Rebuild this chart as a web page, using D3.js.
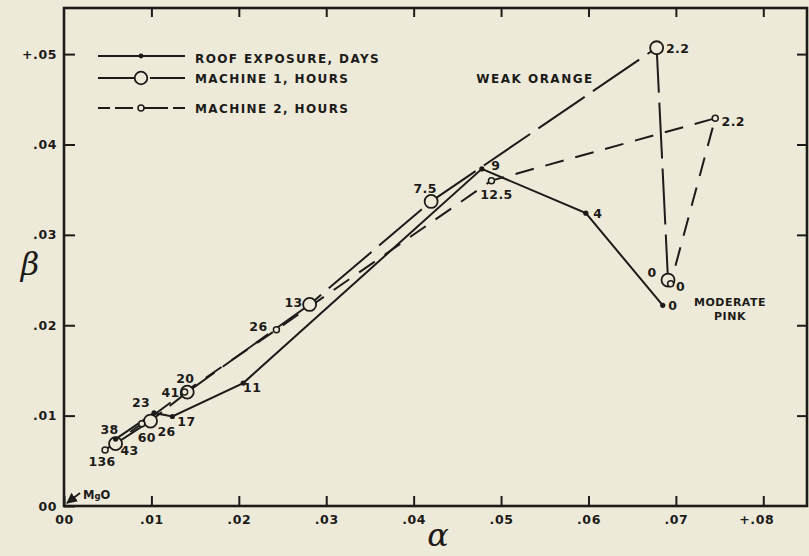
<!DOCTYPE html>
<html>
<head>
<meta charset="utf-8">
<script src="https://cdn.jsdelivr.net/npm/d3@7"></script>
<style>
  html, body { margin: 0; padding: 0; background: #eeeada; }
  svg { display: block; }
  text { font-family: "DejaVu Sans", sans-serif; font-weight: bold; fill: #1c1b18; }
</style>
</head>
<body>
<svg id="chart" width="809" height="556"></svg>
<script>
// Roof exposure, days
const roofLabels = ["38", "23", "17", "11", "9", "4", "0"];
const roofAlpha  = [0.0059, 0.0103, 0.0124, 0.0205, 0.0478, 0.0597, 0.0685];
const roofBeta   = [0.0074, 0.0103, 0.0099, 0.0136, 0.0373, 0.0324, 0.0222];

// Machine 1, hours
const m1Labels = ["43", "26", "20", "13", "7.5", "2.2", "0"];
const m1Alpha  = [0.0059, 0.0099, 0.0141, 0.0281, 0.0420, 0.0678, 0.0691];
const m1Beta   = [0.0069, 0.0094, 0.0126, 0.0223, 0.0337, 0.0507, 0.0250];

// Machine 2, hours
const m2Labels = ["136", "60", "41", "26", "12.5", "2.2", "0"];
const m2Alpha  = [0.0047, 0.0089, 0.0138, 0.0243, 0.0489, 0.0745, 0.0694];
const m2Beta   = [0.0062, 0.0091, 0.0126, 0.0195, 0.0360, 0.0429, 0.0246];

// Axes
const xTicks      = [0, 0.01, 0.02, 0.03, 0.04, 0.05, 0.06, 0.07, 0.08];
const xTickLabels = ["00", ".01", ".02", ".03", ".04", ".05", ".06", ".07", "+.08"];
const yTicks      = [0, 0.01, 0.02, 0.03, 0.04, 0.05];
const yTickLabels = ["00", ".01", ".02", ".03", ".04", "+.05"];

const seriesNames = ["ROOF EXPOSURE, DAYS", "MACHINE 1, HOURS", "MACHINE 2, HOURS"];
const colourNotes = ["WEAK ORANGE", "MODERATE", "PINK"];

const INK = "#1c1b18";
const PAPER = "#eeeada";

const svg = d3.select("#chart");

const x = d3.scaleLinear().domain([0, 0.085]).range([64, 807]);
const y = d3.scaleLinear().domain([0, 0.0551]).range([506, 8]);

// label offsets (px) for each point, same order as the series
const roofOff = [[-6, -10], [-13, -10], [14, 5], [9, 4], [14, -3], [12, 0], [10, 0]];
const m1Off   = [[14, 7], [16, 10], [-2, -14], [-16, -2], [-6, -13], [21, 1], [-16, -8]];
const m2Off   = [[-3, 12], [5, 14], [-14, 0], [-18, -3], [5, 14], [18, 3], [10, 3]];

const zip = (a, b, l) => a.map((v, i) => ({ a: v, b: b[i], label: l[i] }));
const roof = zip(roofAlpha, roofBeta, roofLabels);
const m1 = zip(m1Alpha, m1Beta, m1Labels);
const m2 = zip(m2Alpha, m2Beta, m2Labels);

const line = d3.line().x(d => x(d.a)).y(d => y(d.b));

// ---- axes ----
const fmt = (ticks, labels) => v => labels[ticks.indexOf(v)];

const gx = svg.append("g").attr("transform", `translate(0,${y(0)})`)
  .call(d3.axisBottom(x).tickValues(xTicks).tickFormat(fmt(xTicks, xTickLabels))
        .tickSize(-10).tickPadding(9));
gx.selectAll("text").attr("font-size", 12.5).attr("letter-spacing", 0.6)
  .attr("dx", d => d === 0.08 ? -7 : 0);

const gy = svg.append("g").attr("transform", `translate(${x(0)},0)`)
  .call(d3.axisLeft(y).tickValues(yTicks).tickFormat(fmt(yTicks, yTickLabels))
        .tickSize(-11).tickPadding(7));
gy.selectAll("text").attr("font-size", 12.5).attr("letter-spacing", 0.6);

svg.append("g").attr("transform", `translate(0,${y.range()[1]})`)
  .call(d3.axisTop(x).tickValues(xTicks.slice(1)).tickFormat("").tickSize(-9));
svg.append("g").attr("transform", `translate(${x.range()[1]},0)`)
  .call(d3.axisRight(y).tickValues(yTicks.slice(1)).tickFormat("").tickSize(-10));

svg.selectAll(".domain").remove();
svg.selectAll(".tick line").attr("stroke", INK).attr("stroke-width", 2);

// frame
svg.append("rect")
  .attr("x", x(0)).attr("y", y.range()[1])
  .attr("width", x.range()[1] - x(0)).attr("height", y(0) - y.range()[1])
  .attr("fill", "none").attr("stroke", INK).attr("stroke-width", 2.6);

// ---- series lines ----
const m1Dash = "56,10";
const m2Dash = "19,12";

svg.append("path").datum(m1).attr("d", line)
  .attr("fill", "none").attr("stroke", INK).attr("stroke-width", 2)
  .attr("stroke-dasharray", m1Dash);
svg.append("path").datum(m2).attr("d", line)
  .attr("fill", "none").attr("stroke", INK).attr("stroke-width", 2)
  .attr("stroke-dasharray", m2Dash);
svg.append("path").datum(roof).attr("d", line)
  .attr("fill", "none").attr("stroke", INK).attr("stroke-width", 2);

// ---- markers ----
svg.append("g").selectAll("circle").data(m1).join("circle")
  .attr("cx", d => x(d.a)).attr("cy", d => y(d.b)).attr("r", 6.5)
  .attr("fill", PAPER).attr("stroke", INK).attr("stroke-width", 1.8);
svg.append("g").selectAll("circle").data(m2).join("circle")
  .attr("cx", d => x(d.a)).attr("cy", d => y(d.b)).attr("r", 3)
  .attr("fill", PAPER).attr("stroke", INK).attr("stroke-width", 1.5);
svg.append("g").selectAll("circle").data(roof).join("circle")
  .attr("cx", d => x(d.a)).attr("cy", d => y(d.b)).attr("r", 2.6)
  .attr("fill", INK);

// ---- point labels ----
function pointLabels(data, off) {
  svg.append("g").selectAll("text").data(data).join("text")
    .attr("x", (d, i) => x(d.a) + off[i][0])
    .attr("y", (d, i) => y(d.b) + off[i][1])
    .attr("text-anchor", "middle").attr("dominant-baseline", "central")
    .attr("font-size", 12.5).attr("letter-spacing", 0.4)
    .text(d => d.label);
}
pointLabels(roof, roofOff);
pointLabels(m1, m1Off);
pointLabels(m2, m2Off);

// ---- legend ----
const legend = svg.append("g");
const rows = [
  { y: 56, mark: "dot" },
  { y: 78, mark: "big" },
  { y: 108, mark: "small" }
];
rows.forEach((r, i) => {
  const ln = legend.append("line")
    .attr("x1", 98).attr("x2", 185).attr("y1", r.y).attr("y2", r.y)
    .attr("stroke", INK).attr("stroke-width", 2);
  if (i === 1) ln.attr("stroke-dasharray", "45,7");
  if (i === 2) ln.attr("stroke-dasharray", "12,5,18,5,30,5,18");
  const c = legend.append("circle").attr("cx", 141).attr("cy", r.y);
  if (r.mark === "dot") c.attr("r", 2.4).attr("fill", INK);
  if (r.mark === "big") c.attr("r", 6.3).attr("fill", PAPER).attr("stroke", INK).attr("stroke-width", 1.8);
  if (r.mark === "small") c.attr("r", 3).attr("fill", PAPER).attr("stroke", INK).attr("stroke-width", 1.5);
  legend.append("text")
    .attr("x", 195).attr("y", r.y + (i === 0 ? 3 : 1))
    .attr("dominant-baseline", "central")
    .attr("font-size", 12).attr("letter-spacing", 1.4)
    .text(seriesNames[i]);
});

// ---- colour notes ----
svg.append("text").attr("x", 535).attr("y", 79)
  .attr("text-anchor", "middle").attr("dominant-baseline", "central")
  .attr("font-size", 12).attr("letter-spacing", 1.5).text(colourNotes[0]);
svg.append("text").attr("x", 730).attr("y", 302)
  .attr("text-anchor", "middle").attr("dominant-baseline", "central")
  .attr("font-size", 11).attr("letter-spacing", 0.5).text(colourNotes[1]);
svg.append("text").attr("x", 730).attr("y", 316)
  .attr("text-anchor", "middle").attr("dominant-baseline", "central")
  .attr("font-size", 11).attr("letter-spacing", 0.5).text(colourNotes[2]);

// ---- MgO reference at the origin ----
svg.append("defs").append("marker")
  .attr("id", "arrow").attr("viewBox", "0 0 10 10").attr("refX", 9).attr("refY", 5)
  .attr("markerWidth", 6).attr("markerHeight", 6).attr("orient", "auto")
  .append("path").attr("d", "M0,0 L10,5 L0,10 z").attr("fill", INK);
svg.append("line")
  .attr("x1", x(0) + 16).attr("y1", y(0) - 13)
  .attr("x2", x(0) + 3).attr("y2", y(0) - 3)
  .attr("stroke", INK).attr("stroke-width", 1.8).attr("marker-end", "url(#arrow)");
const mgo = svg.append("text").attr("x", x(0) + 19).attr("y", y(0) - 11)
  .attr("dominant-baseline", "central").attr("font-size", 11.5);
mgo.append("tspan").text("M");
mgo.append("tspan").attr("font-size", 8.5).attr("dy", 1).text("g");
mgo.append("tspan").attr("dy", -1).text("O");

// ---- axis titles ----
svg.append("text").attr("x", 30).attr("y", 264)
  .attr("text-anchor", "middle").attr("dominant-baseline", "central")
  .style("font-family", "'DejaVu Serif', serif").style("font-style", "italic")
  .style("font-weight", "normal")
  .attr("font-size", 32).text("β");
svg.append("text").attr("x", 438).attr("y", 535)
  .attr("text-anchor", "middle").attr("dominant-baseline", "central")
  .style("font-family", "'DejaVu Serif', serif").style("font-style", "italic")
  .style("font-weight", "normal")
  .attr("font-size", 32).text("α");
</script>
</body>
</html>
